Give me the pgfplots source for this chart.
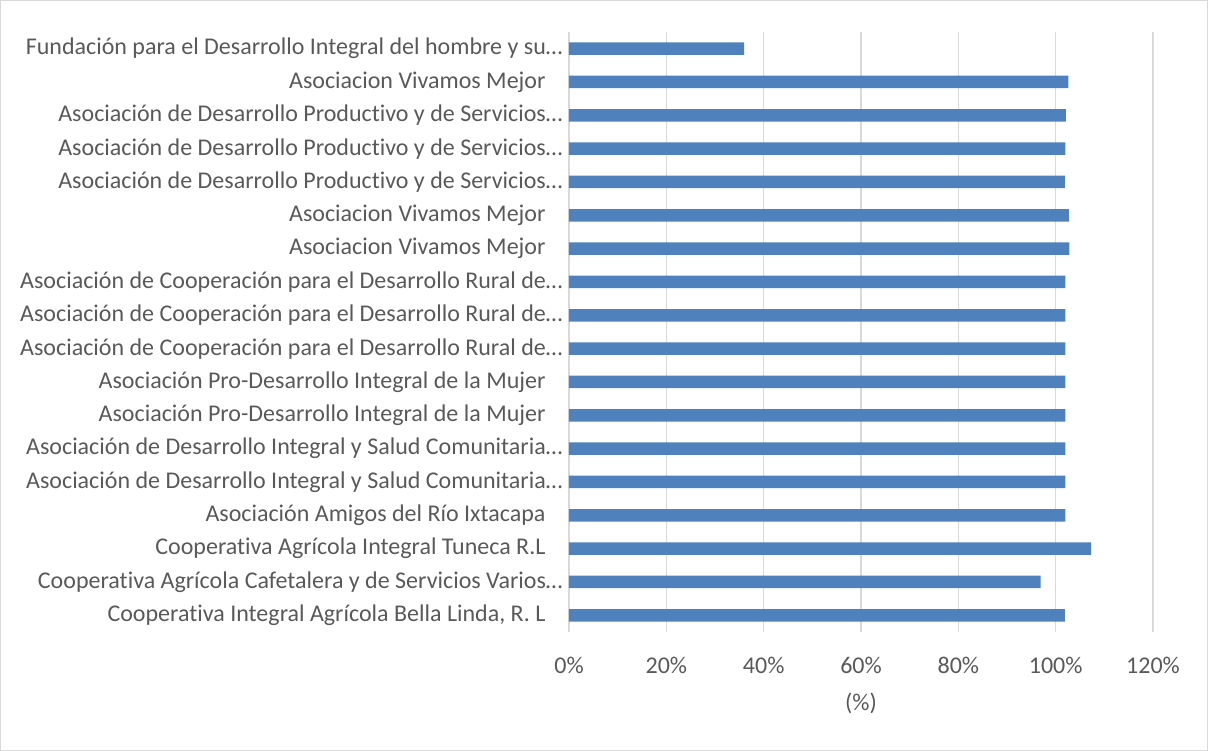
\documentclass[border=0pt]{standalone}
\usepackage{fontspec}
\setmainfont{Carlito}[Ligatures=CommonOff]
\usepackage{pgfplots}
\pgfplotsset{compat=1.18}
\definecolor{barblue}{HTML}{4F81BD}
\definecolor{gridgray}{HTML}{D9D9D9}
\definecolor{textgray}{HTML}{595959}
\begin{document}
\begin{tikzpicture}
\path[use as bounding box] (0,0) rectangle (1208pt,751pt);
\draw[gridgray, line width=1.2pt] (0.6pt,0.6pt) rectangle (1207.4pt,750.4pt);
\begin{axis}[
  at={(569pt,119pt)}, anchor=south west,
  width=584pt, height=600pt, scale only axis,
  xbar, bar width=12.5pt,
  xmin=0, xmax=1.2, ymin=-0.5, ymax=17.5,
  xtick={0,0.2,0.4,0.6,0.8,1.0,1.2},
  xticklabels={0\%,20\%,40\%,60\%,80\%,100\%,120\%},
  ytick={0,1,...,17},
  yticklabels={
    {Cooperativa Integral Agrícola Bella Linda, R. L\hspace*{17pt}},
    {Cooperativa Agrícola Cafetalera y de Servicios Varios…},
    {Cooperativa Agrícola Integral Tuneca R.L\hspace*{17pt}},
    {Asociación Amigos del Río Ixtacapa\hspace*{17pt}},
    {Asociación de Desarrollo Integral y Salud Comunitaria…},
    {Asociación de Desarrollo Integral y Salud Comunitaria…},
    {Asociación Pro-Desarrollo Integral de la Mujer\hspace*{17pt}},
    {Asociación Pro-Desarrollo Integral de la Mujer\hspace*{17pt}},
    {Asociación de Cooperación para el Desarrollo Rural de…},
    {Asociación de Cooperación para el Desarrollo Rural de…},
    {Asociación de Cooperación para el Desarrollo Rural de…},
    {Asociacion Vivamos Mejor\hspace*{17pt}},
    {Asociacion Vivamos Mejor\hspace*{17pt}},
    {Asociación de Desarrollo Productivo y de Servicios…},
    {Asociación de Desarrollo Productivo y de Servicios…},
    {Asociación de Desarrollo Productivo y de Servicios…},
    {Asociacion Vivamos Mejor\hspace*{17pt}},
    {Fundación para el Desarrollo Integral del hombre y su…}
  },
  xmajorgrids,
  major grid style={draw=gridgray, line width=1.3pt},
  axis line style={draw=none},
  tick style={draw=none},
  ticklabel style={font=\fontsize{24}{28}\selectfont, text=textgray},
  yticklabel style={inner sep=0pt, anchor=east, xshift=-2pt},
  xticklabel style={inner sep=0pt, anchor=center, yshift=-33pt},
  xlabel={(\%)},
  xlabel style={at={(axis description cs:0.5,0)}, anchor=center, yshift=-71pt, font=\fontsize{24}{28}\selectfont, text=textgray},
]
\addplot[fill=barblue, draw=none] coordinates {
  (1.019,0) (0.969,1) (1.073,2) (1.020,3) (1.020,4) (1.020,5)
  (1.020,6) (1.020,7) (1.020,8) (1.020,9) (1.020,10) (1.028,11)
  (1.027,12) (1.019,13) (1.020,14) (1.021,15) (1.026,16) (0.360,17)
};
\end{axis}
\end{tikzpicture}
\end{document}
